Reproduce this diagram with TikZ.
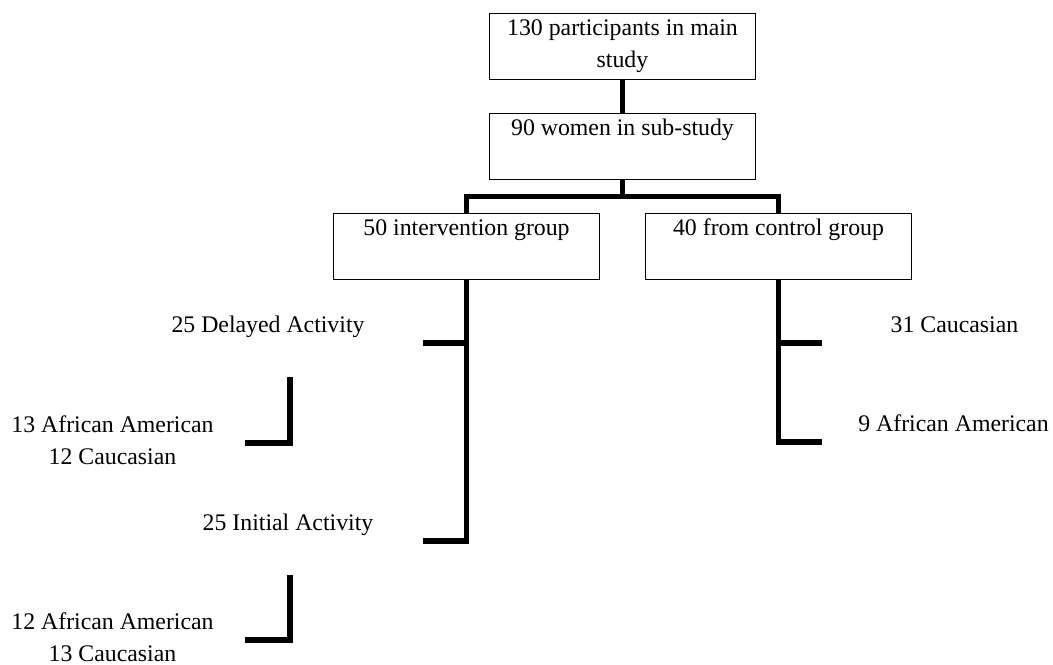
\documentclass[tikz,border=0pt]{standalone}
\usepackage{fontspec}
\setmainfont{Liberation Serif}
\usetikzlibrary{positioning}

\newcommand{\boxtxt}[1]{\parbox[c][33pt][t]{133pt}{\centering\strut#1}}

\begin{document}
\begin{tikzpicture}[x=0.5pt,y=-0.5pt,node distance=16.5pt,
    font=\fontsize{11.9}{15.75}\selectfont,
    box/.style={draw,line width=0.5pt,inner sep=0pt},
    link/.style={line width=2.8pt},
    lbl/.style={inner sep=0pt,anchor=base},
    grp/.style={inner sep=0pt,align=center}]
    \useasboundingbox (0,0) rectangle (1053,664);
    \node[box,anchor=north] (main)   at (622.5,13)      {\boxtxt{130 participants in main\\study}};
    \node[box]              (sub)    [below=of main]    {\boxtxt{90 women in sub-study}};
    \node[box]              (interv) [below=of sub,xshift=-78pt] {\boxtxt{50 intervention group}};
    \node[box]              (ctrl)   [below=of sub,xshift=78pt]  {\boxtxt{40 from control group}};

    \coordinate (split) at ([yshift=-8.25pt]sub.south);
    \draw[link] (main.south) -- (sub.north);
    \draw[link] (sub.south) -- (split);
    \draw[link] (interv.north) |- (split) -| (ctrl.north);

    % intervention branch
    \coordinate (dstub) at (423,343);
    \coordinate (istub) at (423,541);
    \draw[link] (interv.south) |- (istub);
    \draw[link] (dstub) -- (dstub -| interv.south);
    \node[lbl] (delay)   at (268,332) {25 Delayed Activity};
    \node[lbl] (initial) at (288,530) {25 Initial Activity};

    \coordinate (dtop) at (290,377);
    \coordinate (dend) at (245,443);
    \coordinate (itop) at (290,575);
    \coordinate (iend) at (245,640);
    \draw[link] (dtop) |- (dend);
    \draw[link] (itop) |- (iend);
    \node[grp] (delsplit) at (112.5,440) {13 African American\\12 Caucasian};
    \node[grp] (inisplit) at (112.5,637) {12 African American\\13 Caucasian};

    % control branch
    \coordinate (cstub) at (822,343);
    \coordinate (astub) at (822,442);
    \draw[link] (ctrl.south) |- (astub);
    \draw[link] (cstub) -- (cstub -| ctrl.south);
    \node[lbl] (cauc) at (954.5,332) {31 Caucasian};
    \node[lbl] (afam) at (953.5,431) {9 African American};
\end{tikzpicture}
\end{document}
